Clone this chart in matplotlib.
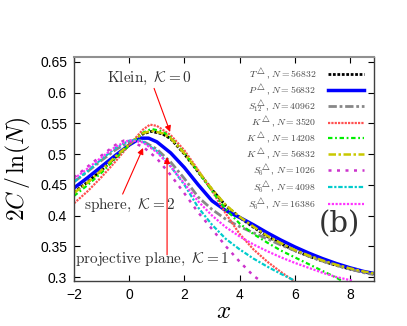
import matplotlib
matplotlib.use("Agg")
import matplotlib.pyplot as plt

plt.rcParams['mathtext.fontset'] = 'cm'
plt.rcParams['font.family'] = ['Liberation Sans', 'DejaVu Sans']

# ---- data ----
x_top = [-2, -1.5, -1, -0.5, 0, 0.5, 0.8, 1.2, 1.5, 2, 2.5, 3, 3.5, 4, 4.5, 5, 5.5, 6, 6.5, 7, 7.5, 8, 8.5, 8.85]
y_T = [0.438, 0.455, 0.474, 0.495, 0.515, 0.533, 0.537, 0.533, 0.525, 0.500, 0.471, 0.442, 0.416, 0.397, 0.381, 0.366, 0.354, 0.343, 0.334, 0.326, 0.319, 0.313, 0.308, 0.305]
y_K56832 = [0.437, 0.454, 0.474, 0.496, 0.516, 0.534, 0.538, 0.534, 0.526, 0.501, 0.472, 0.443, 0.417, 0.398, 0.382, 0.367, 0.355, 0.344, 0.335, 0.327, 0.320, 0.314, 0.309, 0.306]

x_P = [-2, -1.5, -1, -0.5, 0, 0.4, 0.7, 1, 1.5, 2, 2.5, 3, 3.5, 4, 4.5, 5, 5.5, 6, 6.5, 7, 7.5, 8, 8.5, 8.85]
y_P = [0.445, 0.462, 0.480, 0.498, 0.515, 0.526, 0.526, 0.520, 0.502, 0.478, 0.450, 0.424, 0.408, 0.397, 0.385, 0.372, 0.360, 0.349, 0.339, 0.330, 0.322, 0.315, 0.309, 0.306]

x_S12 = [-2, -1.5, -1, -0.5, 0, 0.3, 0.5, 1, 1.5, 2, 2.5, 3, 3.5, 4, 4.5, 5, 5.5, 6, 6.5, 7, 7.5, 8, 8.5, 8.85]
y_S12 = [0.455, 0.472, 0.490, 0.507, 0.520, 0.523, 0.521, 0.508, 0.487, 0.460, 0.430, 0.410, 0.394, 0.382, 0.372, 0.362, 0.352, 0.343, 0.334, 0.326, 0.319, 0.313, 0.307, 0.304]

x_K3520 = [-2, -1.5, -1, -0.5, 0, 0.5, 0.75, 1, 1.5, 2, 2.5, 3, 3.5, 4, 4.5, 5, 5.5, 5.95]
y_K3520 = [0.420, 0.440, 0.463, 0.488, 0.515, 0.540, 0.548, 0.546, 0.531, 0.506, 0.474, 0.440, 0.403, 0.370, 0.345, 0.325, 0.308, 0.294]

x_K14208 = [-2, -1.5, -1, -0.5, 0, 0.5, 0.8, 1.2, 1.5, 2, 2.5, 3, 3.5, 4, 4.5, 5, 5.5, 6, 6.5, 7, 7.5, 7.7]
y_K14208 = [0.432, 0.450, 0.470, 0.493, 0.515, 0.535, 0.541, 0.537, 0.527, 0.502, 0.471, 0.440, 0.410, 0.387, 0.370, 0.356, 0.343, 0.332, 0.321, 0.310, 0.299, 0.294]

x_S6a = [-2, -1.5, -1, -0.5, -0.2, 0, 0.5, 1, 1.5, 2, 2.5, 3, 3.5, 4, 4.5, 4.75]
y_S6a = [0.462, 0.480, 0.498, 0.515, 0.522, 0.521, 0.512, 0.493, 0.466, 0.436, 0.405, 0.378, 0.350, 0.325, 0.302, 0.294]

x_S6b = [-2, -1.5, -1, -0.5, 0, 0.3, 0.5, 1, 1.5, 2, 2.5, 3, 3.5, 4, 4.5, 5, 5.5, 6]
y_S6b = [0.455, 0.473, 0.492, 0.510, 0.522, 0.523, 0.520, 0.505, 0.480, 0.450, 0.413, 0.385, 0.362, 0.345, 0.330, 0.317, 0.305, 0.294]

x_S6c = [-2, -1.5, -1, -0.5, 0, 0.5, 1, 1.5, 2, 2.5, 3, 3.5, 4, 4.5, 5, 5.5, 6, 6.5, 7, 7.5, 8, 8.1]
y_S6c = [0.460, 0.477, 0.495, 0.512, 0.523, 0.519, 0.503, 0.480, 0.452, 0.423, 0.400, 0.381, 0.366, 0.353, 0.342, 0.332, 0.323, 0.315, 0.307, 0.300, 0.295, 0.294]

labels = [r'$T^{\triangle}$, $N=56832$', r'$P^{\triangle}$, $N=56832$',
          r'$S_{12}^{\triangle}$, $N=40962$', r'$K^{\triangle}$, $N=3520$',
          r'$K^{\triangle}$, $N=14208$', r'$K^{\triangle}$, $N=56832$',
          r'$S_{6}^{\triangle}$, $N=1026$', r'$S_{6}^{\triangle}$, $N=4098$',
          r'$S_{6}^{\triangle}$, $N=16386$']

fig = plt.figure(figsize=(4.07, 3.26), dpi=100)
ax = fig.add_axes([0.182, 0.138, 0.737, 0.687])

ax.plot(x_top, y_T, color='black', lw=2.0, ls=(0, (1, 0.6)), label=labels[0])
ax.plot(x_P, y_P, color='#0000ff', lw=2.5, ls='-', label=labels[1])
ax.plot(x_S12, y_S12, color='#888888', lw=2.0, ls=(0, (3, 1, 1, 1)), label=labels[2])
ax.plot(x_K3520, y_K3520, color='#ff5050', lw=1.6, ls=(0, (1, 0.5)), label=labels[3])
ax.plot(x_K14208, y_K14208, color='#00ee00', lw=1.6, ls=(0, (2, 1.2, 0.8, 1.2)), label=labels[4])
ax.plot(x_top, y_K56832, color='#c8c800', lw=1.8, ls=(0, (3, 1, 1, 1)), label=labels[5])
ax.plot(x_S6a, y_S6a, color='#cc33cc', lw=1.8, ls=(0, (1.2, 2.2)), label=labels[6])
ax.plot(x_S6b, y_S6b, color='#00cccc', lw=1.6, ls=(0, (2, 0.8, 1, 0.8)), label=labels[7])
ax.plot(x_S6c, y_S6c, color='#ff33ff', lw=1.6, ls=(0, (1, 0.7)), label=labels[8])

ax.set_xlim(-2, 8.87)
ax.set_ylim(0.2935, 0.658)
ax.set_xticks([-2, 0, 2, 4, 6, 8])
ax.set_yticks([0.3, 0.35, 0.4, 0.45, 0.5, 0.55, 0.6, 0.65])
ax.set_yticklabels(['0.3', '0.35', '0.4', '0.45', '0.5', '0.55', '0.6', '0.65'])
ax.tick_params(direction='in', top=True, right=True, length=4, labelsize=10, pad=5)
for s in ax.spines.values():
    s.set_color('#404040')
    s.set_linewidth(1.0)
ax.spines['top'].set_color('#909090')
ax.spines['top'].set_linewidth(1.5)

ax.set_xlabel(r'$x$', fontsize=18, labelpad=-2)
ax.set_ylabel(r'$2C\,/\,\ln(N)$', fontsize=17, labelpad=5)

leg = ax.legend(loc='upper right', bbox_to_anchor=(0.988, 0.99), frameon=False,
                markerfirst=False, fontsize=7, handlelength=3.7, labelspacing=0.06,
                handletextpad=1.2, borderpad=0.2)
for t in leg.get_texts():
    t.set_color('#444444')

ann = dict(arrowstyle='-|>', color='red', lw=0.8, mutation_scale=9, shrinkA=0, shrinkB=0)
ax.text(0.75, 0.624, r'$\mathrm{Klein},\ \mathcal{K}=0$', fontsize=11, ha='center', va='center', color='#333333')
ax.annotate('', xy=(1.48, 0.536), xytext=(0.9, 0.607), arrowprops=ann)
ax.text(0.03, 0.417, r'$\mathrm{sphere},\ \mathcal{K}=2$', fontsize=11, ha='center', va='center', color='#333333')
ax.annotate('', xy=(0.5, 0.510), xytext=(-0.24, 0.435), arrowprops=ann)
ax.text(-1.96, 0.329, r'$\mathrm{projective\ plane},\ \mathcal{K}=1$', fontsize=11, ha='left', va='center', color='#333333')
ax.annotate('', xy=(1.37, 0.495), xytext=(1.37, 0.336), arrowprops=ann)
ax.text(7.62, 0.385, '(b)', fontsize=21, family='DejaVu Serif', ha='center', va='center', color='#333333')

fig.savefig('out.png', dpi=100)
